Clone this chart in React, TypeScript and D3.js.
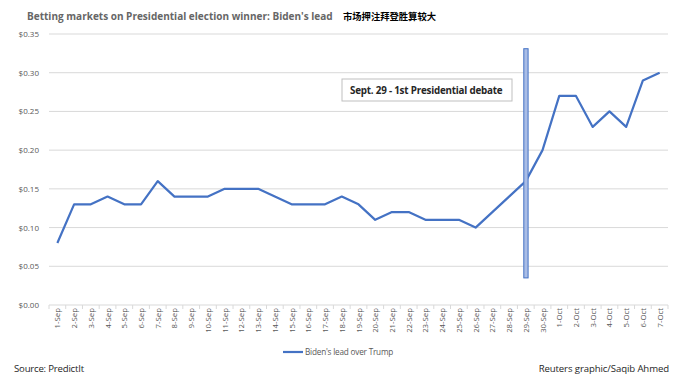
import React, { useLayoutEffect, useRef, useState } from "react";
import * as d3 from "d3";

const categories: string[] = [
  "1-Sep","2-Sep","3-Sep","4-Sep","5-Sep","6-Sep","7-Sep","8-Sep","9-Sep","10-Sep",
  "11-Sep","12-Sep","13-Sep","14-Sep","15-Sep","16-Sep","17-Sep","18-Sep","19-Sep","20-Sep",
  "21-Sep","22-Sep","23-Sep","24-Sep","25-Sep","26-Sep","27-Sep","28-Sep","29-Sep","30-Sep",
  "1-Oct","2-Oct","3-Oct","4-Oct","5-Oct","6-Oct","7-Oct",
];
const bidenLead: number[] = [
  0.08, 0.13, 0.13, 0.14, 0.13, 0.13, 0.16, 0.14, 0.14, 0.14,
  0.15, 0.15, 0.15, 0.14, 0.13, 0.13, 0.13, 0.14, 0.13, 0.11,
  0.12, 0.12, 0.11, 0.11, 0.11, 0.10, 0.12, 0.14, 0.16, 0.20,
  0.27, 0.27, 0.23, 0.25, 0.23, 0.29, 0.30,
];
const yTicks: number[] = [0, 0.05, 0.1, 0.15, 0.2, 0.25, 0.3, 0.35];
const debateDate = "29-Sep";
const debateRange: [number, number] = [0.035, 0.331];
const debateLabel = "Sept. 29 - 1st Presidential debate";
const title = "Betting markets on Presidential election winner: Biden's lead";
const subtitleZh = "市场押注拜登胜算较大";
const seriesName = "Biden's lead over Trump";
const sourceText = "Source: PredictIt";
const creditText = "Reuters graphic/Saqib Ahmed";

const W = 693, H = 389;
const left = 49, right = 668, top = 34, bottom = 305;
const font = "'Open Sans', 'Liberation Sans', sans-serif";

export default function App() {
  const titleRef = useRef<SVGTextElement>(null);
  const zhRef = useRef<SVGTextElement>(null);
  const [titleSize, setTitleSize] = useState(12);
  const [zhSize, setZhSize] = useState(10);

  useLayoutEffect(() => {
    if (titleRef.current) {
      const len = titleRef.current.getComputedTextLength();
      if (len > 0) setTitleSize((s) => Math.min(14, (s * 306) / len));
    }
    if (zhRef.current) {
      const len = zhRef.current.getComputedTextLength();
      if (len > 0) setZhSize((s) => Math.min(12, (s * 93) / len));
    }
  }, []);

  const x = d3.scaleBand<string>().domain(categories).range([left, right]);
  const y = d3.scaleLinear().domain([0, 0.35]).range([bottom, top]);
  const cx = (c: string) => (x(c) as number) + x.bandwidth() / 2;
  const line = d3
    .line<number>()
    .x((_, i) => cx(categories[i]))
    .y((d) => y(d));
  const fmt = d3.format("$.2f");
  const bx = cx(debateDate);

  return (
    <div style={{ position: "absolute", left: 0, top: 0 }}>
      <svg width={W} height={H} style={{ display: "block", background: "#fff" }}>
        <text ref={titleRef} x={27} y={20} fontFamily={font} fontWeight="bold" fontSize={titleSize} fill="#666666">
          {title}
        </text>
        <text ref={zhRef} x={343} y={20} fontFamily="'Noto Sans CJK SC', sans-serif" fontWeight="bold" fontSize={zhSize} fill="#000">
          {subtitleZh}
        </text>

        {yTicks.map((t) => (
          <g key={t}>
            <line x1={left} x2={right} y1={y(t)} y2={y(t)} stroke="#d9d9d9" strokeWidth={1} />
            <text x={39} y={y(t) + 3} textAnchor="end" fontFamily={font} fontSize={8} fill="#595959">
              {fmt(t)}
            </text>
          </g>
        ))}

        {categories.map((c) => (
          <line key={"tk" + c} x1={(x(c) as number)} x2={(x(c) as number)} y1={bottom} y2={bottom + 4} stroke="#d9d9d9" />
        ))}
        <line x1={right} x2={right} y1={bottom} y2={bottom + 4} stroke="#d9d9d9" />

        {categories.map((c) => (
          <text
            key={"lb" + c}
            transform={`translate(${cx(c) + 3},${bottom + 3}) rotate(-90)`}
            textAnchor="end"
            fontFamily={font}
            fontSize={7.8}
            fill="#595959"
          >
            {c}
          </text>
        ))}

        <path d={line(bidenLead) || ""} fill="none" stroke="#4472c4" strokeWidth={2.2} strokeLinejoin="round" />

        <rect
          x={bx - 2}
          y={y(debateRange[1])}
          width={4.3}
          height={y(debateRange[0]) - y(debateRange[1])}
          fill="#a9bde6"
          stroke="#4472c4"
          strokeWidth={1}
        />

        <rect x={342} y={79} width={170} height={22} fill="#fff" stroke="#bfbfbf" strokeWidth={1} />
        <text x={350} y={94} fontFamily={font} fontWeight="bold" fontSize={9.8} fill="#262626" letterSpacing={-0.2}>
          {debateLabel}
        </text>

        <line x1={283} x2={303} y1={352} y2={352} stroke="#4472c4" strokeWidth={2.2} />
        <text x={305} y={355} fontFamily={font} fontSize={8.2} fill="#595959" letterSpacing={-0.2}>
          {seriesName}
        </text>

        <text x={14} y={372} fontFamily={font} fontSize={9.6} fill="#262626" letterSpacing={-0.2}>
          {sourceText}
        </text>
        <text x={669} y={372} textAnchor="end" fontFamily={font} fontSize={9.6} fill="#262626" letterSpacing={-0.1}>
          {creditText}
        </text>
      </svg>
    </div>
  );
}
